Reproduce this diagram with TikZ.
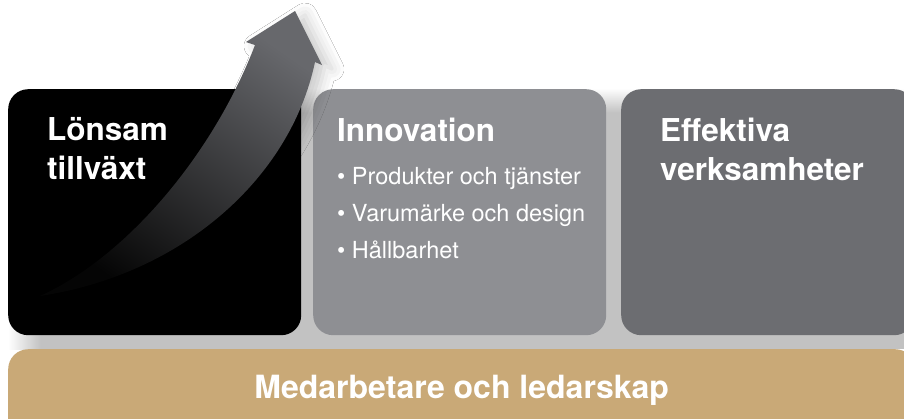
\documentclass[tikz,border=0pt]{standalone}
\usepackage{fontspec}
\setmainfont{TeX Gyre Heros}
\usetikzlibrary{positioning,shadows.blur}
\definecolor{pillargray}{HTML}{8E8F93}
\definecolor{pillardark}{HTML}{6C6D71}
\definecolor{basetan}{HTML}{C9A977}
\definecolor{gapgray}{HTML}{C2C2C2}
\definecolor{arrowgray}{HTML}{67686C}
\definecolor{arrowmid}{HTML}{3A3A3C}
\definecolor{arrowtail}{HTML}{050505}
\tikzset{
  pillar/.style={ % one of the three upper boxes
    rectangle, rounded corners=20pt, anchor=north west,
    minimum width=293pt, minimum height=246pt, inner sep=0pt
  },
  basebar/.style={ % the tan bar along the bottom
    rectangle, rounded corners=20pt, anchor=north west,
    minimum width=907pt, minimum height=90pt, inner sep=0pt,
    fill=basetan
  },
  title/.style={ % bold white heading in a box
    text=white, inner sep=0pt, anchor=base west,
    font=\fontsize{31.5}{38}\selectfont\bfseries
  },
  item/.style={ % bullet line under a heading
    text=white, inner sep=0pt, anchor=base west,
    font=\fontsize{23.5}{28}\selectfont
  },
  growth arrow/.style={ % shaded curved arrow
    bottom color=arrowtail, middle color=arrowmid, top color=arrowgray,
    shading angle=-35,
    blur shadow={shadow xshift=10pt, shadow yshift=-4pt,
      shadow blur radius=12pt, shadow opacity=20}
  }
}

\begin{document}
\begin{tikzpicture}[x=1pt, y=-1pt]
    \useasboundingbox (0,0) rectangle (904,418);
    \fill[white] (0,0) rectangle (904,418);

    % grey field showing between the boxes
    \fill[gapgray] (40,112) rectangle (904,349);
    \shade[top color=white, bottom color=gapgray] (40,88) rectangle (904,112.5);
    \shade[left color=white, right color=gapgray] (8,320) rectangle (40.5,349);

    \node[pillar, fill=black] (growth) at (8,89) {};
    \node[pillar, fill=pillargray] (innov) at (313,89) {};
    \node[pillar, fill=pillardark] (effect) at (621,89) {};
    \node[basebar] (people) at (8,349) {};

    \node[title] (growth_a) at ([xshift=39pt,yshift=-51pt]growth.north west) {Lönsam};
    \node[title] (growth_b) at ([yshift=-39pt]growth_a.base west) {tillväxt};

    \node[title] (innov_a) at ([xshift=24pt,yshift=-52pt]innov.north west) {Innovation};
    \node[item] (innov_b) at ([yshift=-43pt]innov_a.base west) {• Produkter och tjänster};
    \node[item] (innov_c) at ([yshift=-37pt]innov_b.base west) {• Varumärke och design};
    \node[item] (innov_d) at ([yshift=-37pt]innov_c.base west) {• Hållbarhet};

    \node[title] (effect_a) at ([xshift=39pt,yshift=-52pt]effect.north west) {Effektiva};
    \node[title] (effect_b) at ([yshift=-39pt]effect_a.base west) {verksamheter};

    \node[title, anchor=base, font=\fontsize{32}{38}\selectfont\bfseries]
      (people_label) at ([yshift=-49pt]people.north) {Medarbetare och ledarskap};

    \path[growth arrow] (40,296) .. controls (130,255) and (215,150) .. (255,45)
      -- (246,42) -- (295,11) -- (322,65) -- (315,62)
      .. controls (290,180) and (180,275) .. cycle;
\end{tikzpicture}
\end{document}
